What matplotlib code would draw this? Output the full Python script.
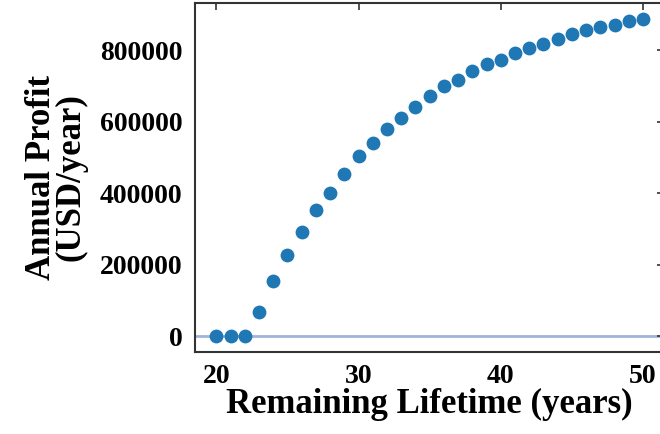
import numpy as np
import matplotlib
matplotlib.use('Agg')
import matplotlib.pyplot as plt

plt.rcParams['font.family'] = ['Liberation Serif', 'DejaVu Serif']
plt.rcParams['font.weight'] = 'bold'

# remaining lifetime (years) and annual profit (USD/year)
lifetime = list(range(20, 51))
profit = [0, 0, 0, 68800, 155500, 226600, 292600, 352400, 401700, 453100,
          503500, 540700, 579000, 610600, 641400, 673000, 699300, 717700,
          742900, 762500, 772800, 793300, 806400, 818400, 831600, 844700,
          855900, 864300, 869900, 881900, 888300]

fig = plt.figure(figsize=(6.6, 4.34), dpi=100)
ax = fig.add_axes([0.2955, 0.189, 0.711, 0.804])

ax.axhline(0, color='#9fb4d8', linewidth=2, zorder=1)
ax.scatter(lifetime, profit, s=80, color='#1f77b4', zorder=2)

ax.set_xticks([20, 30, 40, 50])
ax.set_yticks([0, 200000, 400000, 600000, 800000])
ax.tick_params(axis='both', which='both', direction='in', length=5, width=1.2,
               left=False, bottom=False, right=True, top=True,
               labelleft=True, labelbottom=True, labelsize=20,
               color='#333333')
ax.tick_params(axis='x', pad=9)
ax.tick_params(axis='y', pad=9)
for lab in ax.get_xticklabels() + ax.get_yticklabels():
    lab.set_fontweight('bold')

for sp in ax.spines.values():
    sp.set_linewidth(1.5)
    sp.set_color('#333333')

ax.set_xlabel('Remaining Lifetime (years)', fontsize=25, fontweight='bold', labelpad=-1)
ax.set_ylabel('Annual Profit\n(USD/year)', fontsize=25, fontweight='bold',
              labelpad=9, linespacing=0.85)

fig.savefig('out.png', dpi=100)
